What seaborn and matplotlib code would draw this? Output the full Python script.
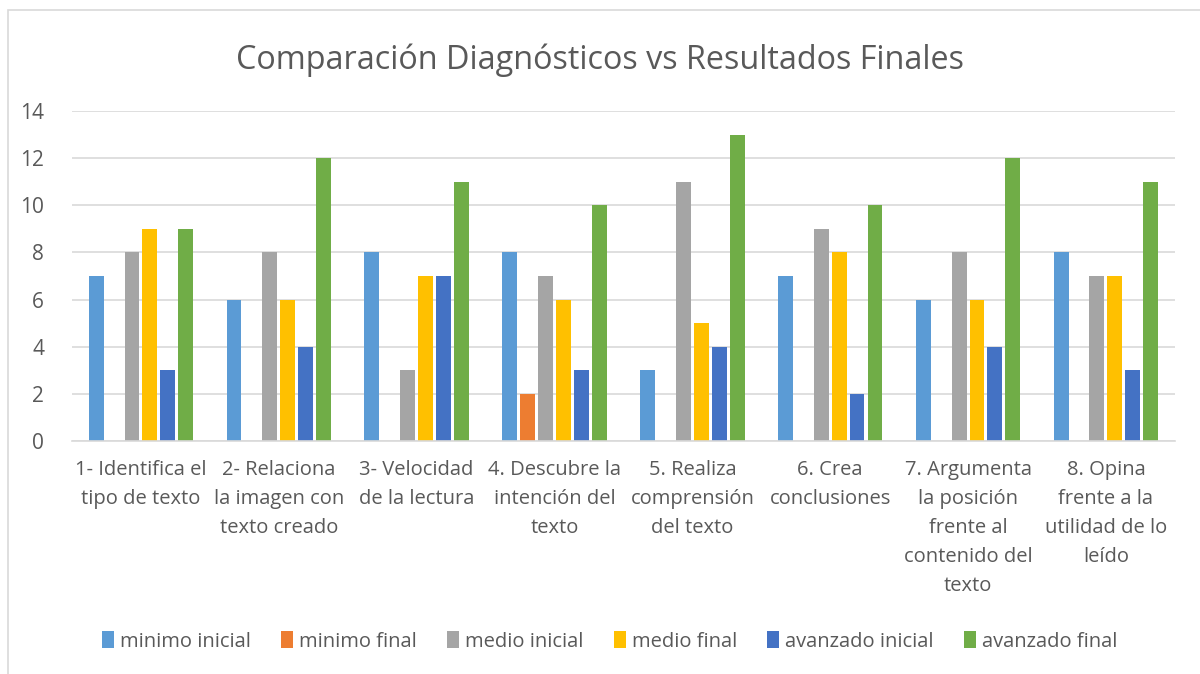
import pandas as pd
import numpy as np
import matplotlib.pyplot as plt
import seaborn as sns
from matplotlib.patches import Rectangle

categories = ['1- Identifica el\ntipo de texto',
              '2- Relaciona\nla imagen con\ntexto creado',
              '3- Velocidad\nde la lectura',
              '4. Descubre la\nintención del\ntexto',
              '5. Realiza\ncomprensión\ndel texto',
              '6. Crea\nconclusiones',
              '7. Argumenta\nla posición\nfrente al\ncontenido del\ntexto',
              '8. Opina\nfrente a la\nutilidad de lo\nleído']
series = ['minimo inicial', 'minimo final', 'medio inicial', 'medio final',
          'avanzado inicial', 'avanzado final']
minimo_inicial = [7, 6, 8, 8, 3, 7, 6, 8]
minimo_final = [0, 0, 0, 2, 0, 0, 0, 0]
medio_inicial = [8, 8, 3, 7, 11, 9, 8, 7]
medio_final = [9, 6, 7, 6, 5, 8, 6, 7]
avanzado_inicial = [3, 4, 7, 3, 4, 2, 4, 3]
avanzado_final = [9, 12, 11, 10, 13, 10, 12, 11]
colors = ['#5B9BD5', '#ED7D31', '#A5A5A5', '#FFC000', '#4472C4', '#70AD47']

values = [minimo_inicial, minimo_final, medio_inicial, medio_final,
          avanzado_inicial, avanzado_final]
rows = []
for s, vals in zip(series, values):
    for c, v in zip(categories, vals):
        rows.append({'cat': c, 'serie': s, 'valor': v})
df = pd.DataFrame(rows)

sns.set_style('white')
plt.rcParams['font.family'] = ['Open Sans', 'DejaVu Sans']
txt = '#595959'

fig = plt.figure(figsize=(12, 6.74), dpi=100)
ax = fig.add_axes([0.06, 0.346, 0.919, 0.489])
sns.barplot(data=df, x='cat', y='valor', hue='serie', order=categories,
            hue_order=series, palette=colors, width=0.78, gap=0.17,
            saturation=1, linewidth=0, ax=ax, legend=True)

ax.set_ylim(0, 14)
ax.set_yticks(range(0, 15, 2))
ax.yaxis.grid(True, color='#D9D9D9', linewidth=1.2)
ax.set_axisbelow(True)
for sp in ['top', 'right', 'left']:
    ax.spines[sp].set_visible(False)
ax.spines['bottom'].set_color('#D9D9D9')
ax.spines['bottom'].set_linewidth(1.2)
ax.tick_params(axis='both', length=0, labelsize=14.5, colors=txt, pad=14)
ax.tick_params(axis='y', labelsize=15, pad=20)
ax.set_xlabel('')
ax.set_ylabel('')
for lab in ax.get_xticklabels():
    lab.set_linespacing(1.6)
    lab.set_verticalalignment('top')

fig.suptitle('Comparación Diagnósticos vs Resultados Finales', y=0.935,
             fontsize=23.3, color=txt)

handles, labels = ax.get_legend_handles_labels()
ax.legend_.remove()
fig.legend(handles, labels, loc='center', bbox_to_anchor=(0.508, 0.048),
           ncol=6, frameon=False, fontsize=14.5, labelcolor=txt,
           handlelength=0.6, handleheight=0.9, handletextpad=0.3,
           columnspacing=1.5)

fig.patches.append(Rectangle((0.007, -0.02), 1.2, 1.005, transform=fig.transFigure,
                             fill=False, edgecolor='#D9D9D9', linewidth=1.2))

fig.savefig('out.png', dpi=100)
